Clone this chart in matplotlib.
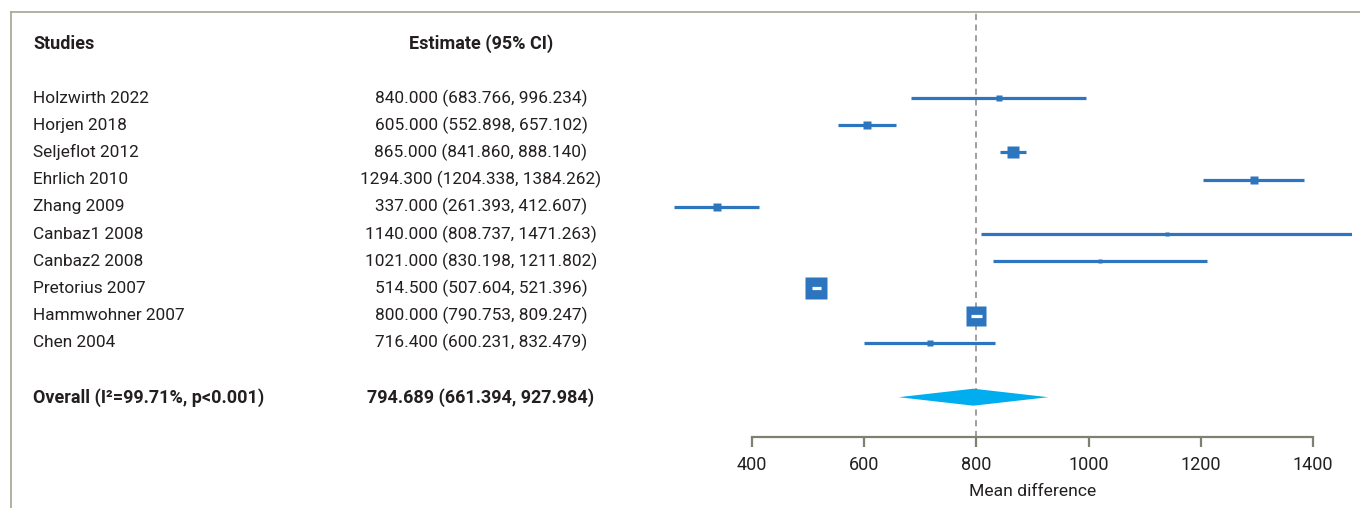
import matplotlib
matplotlib.use("Agg")
import matplotlib.pyplot as plt
import matplotlib.transforms as mtransforms
from matplotlib.lines import Line2D
from matplotlib.patches import Polygon
import numpy as np

plt.rcParams['font.family'] = ['Roboto', 'DejaVu Sans']

# study data
studies = ['Holzwirth 2022', 'Horjen 2018', 'Seljeflot 2012', 'Ehrlich 2010',
           'Zhang 2009', 'Canbaz1 2008', 'Canbaz2 2008', 'Pretorius 2007',
           'Hammwohner 2007', 'Chen 2004']
est = [840.000, 605.000, 865.000, 1294.300, 337.000, 1140.000, 1021.000,
       514.500, 800.000, 716.400]
lower = [683.766, 552.898, 841.860, 1204.338, 261.393, 808.737, 830.198,
         507.604, 790.753, 600.231]
upper = [996.234, 657.102, 888.140, 1384.262, 412.607, 1471.263, 1211.802,
         521.396, 809.247, 832.479]
# relative box weights
weights = [1.6, 2.9, 7.6, 2.9, 2.9, 0.9, 0.9, 23.9, 18.1, 1.3]

overall_label = 'Overall (I\u00b2=99.71%, p<0.001)'
overall_est = 794.689
overall_lo = 661.394
overall_hi = 927.984
ref_value = 800
xticks = [400, 600, 800, 1000, 1200, 1400]

blue = '#2e75c0'
cyan = '#00aeef'
txt = '#231f20'

W, H = 1360, 508
fig = plt.figure(figsize=(W / 100, H / 100), dpi=100)

# forest axes placed in pixel terms
px_per_unit = (1313 - 752) / 1000.0
x0_px, x1_px = 660, 1352
y_top_px, y_bot_px = 12, 437
ax = fig.add_axes([x0_px / W, 1 - y_bot_px / H, (x1_px - x0_px) / W, (y_bot_px - y_top_px) / H])
ax.set_xlim(400 + (x0_px - 752) / px_per_unit, 400 + (x1_px - 752) / px_per_unit)

row_px = 27.2
rows = np.arange(1, len(studies) + 1)
overall_row = len(studies) + 2
header_row = -1
ax.set_ylim(1 + (y_bot_px - 98) / row_px, 1 + (y_top_px - 98) / row_px)

for s in ['top', 'right', 'left']:
    ax.spines[s].set_visible(False)
ax.spines['bottom'].set_bounds(400, 1400)
ax.spines['bottom'].set_color('#7f8074')
ax.spines['bottom'].set_linewidth(1.6)
ax.set_yticks([])
ax.set_xticks(xticks)
ax.tick_params(axis='x', length=7.5, width=1.6, color='#7f8074', labelsize=13,
               labelcolor=txt, pad=6)
ax.set_xlabel('Mean difference', fontsize=12.6, color=txt)
ax.xaxis.set_label_coords(900, -47 / (y_bot_px - y_top_px),
                          transform=mtransforms.blended_transform_factory(ax.transData, ax.transAxes))
ax.patch.set_visible(False)

ax.axvline(ref_value, color='#858585', lw=1.1, ls=(0, (4, 3)), zorder=1)

for r, e, lo, hi, w in zip(rows, est, lower, upper, weights):
    side_px = 4.7 * np.sqrt(w)
    ax.plot([lo, hi], [r, r], color=blue, lw=2.3, solid_capstyle='butt', zorder=2)
    ax.plot(e, r, marker='s', ms=side_px * 0.72, color=blue, mec='none', zorder=3)
    if (hi - lo) * px_per_unit < side_px:
        ax.plot([lo - 1, hi + 1], [r, r], color='white', lw=2.3, solid_capstyle='butt', zorder=4)

half_h = 8.5 / row_px
diamond = Polygon([(overall_lo, overall_row), (overall_est, overall_row - half_h),
                   (overall_hi, overall_row), (overall_est, overall_row + half_h)],
                  closed=True, facecolor=cyan, edgecolor='none', zorder=3)
ax.add_patch(diamond)

# left-hand text columns
trans = mtransforms.blended_transform_factory(fig.transFigure, ax.transData)
col1 = 33 / W
col2 = 481 / W
fs = 12.4
fsb = 13
ax.text(col1, header_row, 'Studies', transform=trans, fontsize=fsb, fontweight='bold',
        color=txt, va='center', ha='left')
ax.text(col2, header_row, 'Estimate (95% CI)', transform=trans, fontsize=fsb,
        fontweight='bold', color=txt, va='center', ha='center')
for r, name, e, lo, hi in zip(rows, studies, est, lower, upper):
    ax.text(col1, r, name, transform=trans, fontsize=fs, color=txt, va='center', ha='left')
    ax.text(col2, r, f'{e:.3f} ({lo:.3f}, {hi:.3f})', transform=trans, fontsize=fs,
            color=txt, va='center', ha='center')
ax.text(col1, overall_row, overall_label, transform=trans, fontsize=fsb, fontweight='bold',
        color=txt, va='center', ha='left')
ax.text(col2, overall_row, f'{overall_est:.3f} ({overall_lo:.3f}, {overall_hi:.3f})',
        transform=trans, fontsize=fsb, fontweight='bold', color=txt, va='center', ha='center')

# outer frame (top and left)
frame_c = '#a9ac98'
fig.add_artist(Line2D([11 / W, 1], [1 - 12 / H, 1 - 12 / H], transform=fig.transFigure,
                      color=frame_c, lw=1.3))
fig.add_artist(Line2D([11 / W, 11 / W], [0, 1 - 12 / H], transform=fig.transFigure,
                      color=frame_c, lw=1.3))

fig.savefig('out.png', dpi=100)
